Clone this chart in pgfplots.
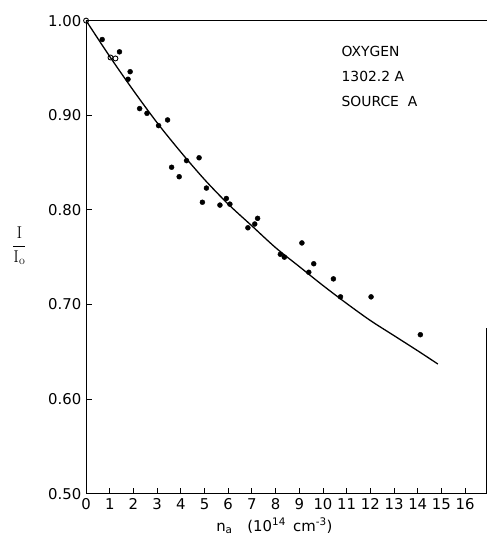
\documentclass[border=0pt]{standalone}
\usepackage{pgfplots}
\pgfplotsset{compat=1.18}
\usepackage[no-math]{fontspec}
\setmainfont{DejaVu Sans}
\begin{document}
\fontsize{14}{16}\selectfont
\begin{tikzpicture}
\begin{axis}[
  scale only axis, width=402.5bp, height=475.3bp,
  xmin=0, xmax=16.91, ymin=0.5, ymax=1.0,
  axis lines=left,
  axis line style={-, line width=1.1pt},
  tick align=inside,
  major tick length=6bp,
  every tick/.style={black, line width=0.9pt},
  xtick={0,1,...,16},
  ytick={0.5,0.6,0.7,0.8,0.9,1.0},
  /pgf/number format/assume math mode=true,
  tick label style={font=\fontsize{15}{17}\selectfont},
  yticklabel style={/pgf/number format/.cd, fixed, fixed zerofill, precision=2},
  xticklabel style={/pgf/number format/.cd, fixed, precision=0},
  every axis x label/.style={at={(ticklabel cs:0.47)}, anchor=north, yshift=1bp, font=\fontsize{15}{17}\selectfont},
  every axis y label/.style={at={(rel axis cs:0,0.524)}, anchor=center, xshift=-67bp, font=\fontsize{18}{20}\selectfont},
  xlabel={n\textsubscript{a}\quad(10\textsuperscript{14}\, cm\textsuperscript{-3})},
  ylabel={$\displaystyle\frac{\mathrm{I}}{\mathrm{I}_{\mathrm{o}}}$},
  clip=false,
]
\coordinate (O) at (rel axis cs:0,0);
\draw[line width=1pt] (rel axis cs:0,1) -- (rel axis cs:1,1);
\draw[line width=0.8pt] (axis cs:16.91,0.5) -- (axis cs:16.91,0.675);
% fitted curve
\addplot[black, line width=1.3pt, smooth] coordinates {
 (0,1.000) (1,0.962) (2,0.926) (3,0.892) (4,0.861) (5,0.832) (6,0.806)
 (7,0.783) (8,0.760) (9,0.740) (10,0.720) (11,0.701) (12,0.683)
 (13,0.667) (14,0.651) (14.85,0.637)
};
% measured points (filled)
\addplot[only marks, mark=*, mark size=2.5bp, black] coordinates {
 (0.68,0.980) (1.41,0.967) (1.86,0.946) (1.77,0.938) (2.26,0.907)
 (2.57,0.902) (3.06,0.889) (3.44,0.895) (3.61,0.845) (3.93,0.835)
 (4.24,0.852) (4.77,0.855) (5.08,0.823) (4.91,0.808) (5.65,0.805)
 (5.92,0.812) (6.07,0.806) (6.83,0.781) (7.12,0.785) (7.24,0.791)
 (8.20,0.753) (8.37,0.750) (9.11,0.765) (9.61,0.743) (9.40,0.734)
 (10.44,0.727) (10.74,0.708) (12.03,0.708) (14.11,0.668)
};
% open points
\addplot[only marks, mark=o, mark size=2.5bp, black, line width=0.9pt] coordinates {
 (0,1.000) (1.03,0.961) (1.24,0.960)
};
\node[anchor=north west, align=left, inner sep=0pt, font=\fontsize{14}{25}\selectfont]
  at (axis cs:10.78,0.973) {OXYGEN\\1302.2 A\\SOURCE\ \ A};
\end{axis}
\useasboundingbox ([shift={(-86.5bp,-42bp)}]O) rectangle ([shift={(403.5bp,496bp)}]O);
\end{tikzpicture}
\end{document}
